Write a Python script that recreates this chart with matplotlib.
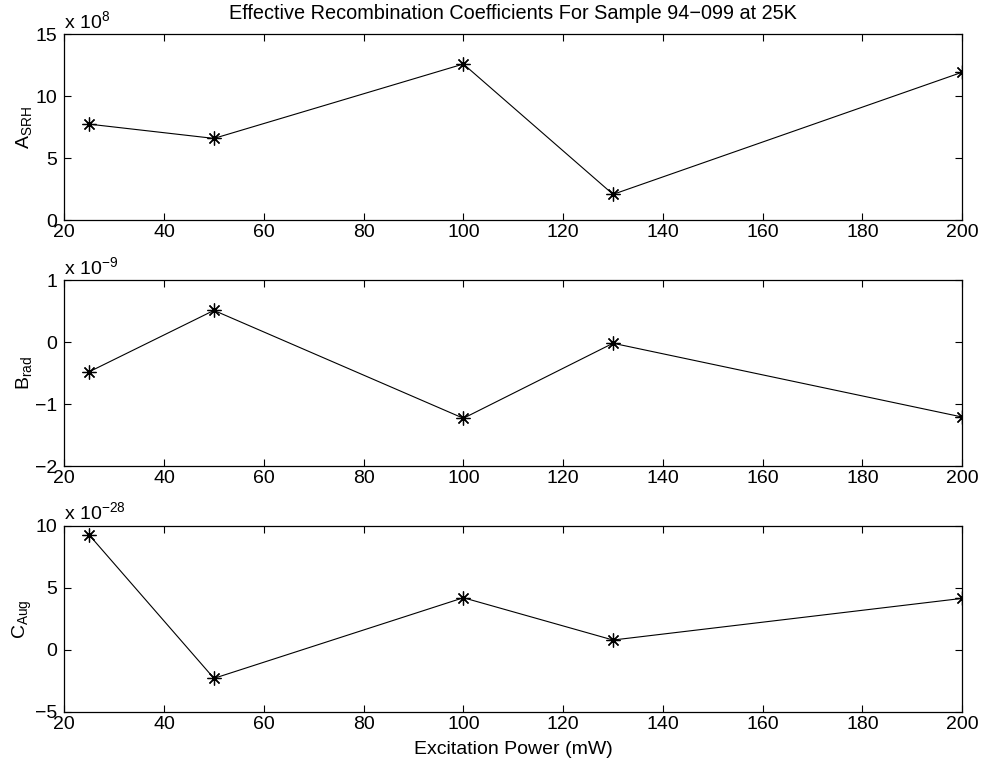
import matplotlib
matplotlib.use("Agg")
import matplotlib.pyplot as plt
from matplotlib.ticker import FuncFormatter

plt.rcParams['font.family'] = ['Liberation Sans', 'DejaVu Sans']
plt.rcParams['mathtext.fontset'] = 'custom'
plt.rcParams['mathtext.rm'] = 'Liberation Sans'
plt.rcParams['mathtext.it'] = 'Liberation Sans:italic'
plt.rcParams['mathtext.bf'] = 'Liberation Sans:bold'

# Data
power_mw = [25, 50, 100, 130, 200]
a_srh = [7.75e8, 6.6e8, 12.6e8, 2.09e8, 11.94e8]
b_rad = [-0.48e-9, 0.51e-9, -1.23e-9, -0.02e-9, -1.21e-9]
c_aug = [9.25e-28, -2.31e-28, 4.19e-28, 0.78e-28, 4.14e-28]

x_ticks = [20, 40, 60, 80, 100, 120, 140, 160, 180, 200]
a_ticks = [0, 5, 10, 15]
b_ticks = [-2, -1, 0, 1]
c_ticks = [-5, 0, 5, 10]

title = "Effective Recombination Coefficients For Sample 94\u2212099 at 25K"
xlabel = "Excitation Power (mW)"

panels = [
    (a_srh, 8, a_ticks, r"A$_{\mathrm{SRH}}$", 0.7132),
    (b_rad, -9, b_ticks, r"B$_{\mathrm{rad}}$", 0.3932),
    (c_aug, -28, c_ticks, r"C$_{\mathrm{Aug}}$", 0.0733),
]


def fmt(v, p, s):
    t = round(v / s, 6)
    txt = "%g" % abs(t)
    return ("\u2212" + txt) if t < 0 else txt


fig = plt.figure(figsize=(9.83, 7.68), dpi=100)
FS = 14
axes = []
for vals, exp, ticks, ylab, bottom in panels:
    ax = fig.add_axes([0.0654, bottom, 0.9135, 0.2422])
    scale = 10.0 ** exp
    ax.plot(power_mw, vals, color='black', linewidth=0.8,
            marker=(8, 2, 0), markersize=10, markeredgewidth=0.9,
            markeredgecolor='black')
    ax.set_xlim(20, 200)
    ax.set_xticks(x_ticks)
    ax.set_ylim(ticks[0] * scale, ticks[-1] * scale)
    ax.set_yticks([t * scale for t in ticks])
    ax.yaxis.set_major_formatter(FuncFormatter(lambda v, p, s=scale: fmt(v, p, s)))
    ax.tick_params(direction='in', top=True, right=True, length=5,
                   width=0.8, labelsize=FS)
    ax.tick_params(axis='y', pad=5)
    ax.tick_params(axis='x', pad=3)
    for sp in ax.spines.values():
        sp.set_linewidth(0.9)
    ax.set_ylabel(ylab, fontsize=FS, labelpad=1)
    label = r"x 10$^{%d}$" % exp if exp > 0 else "x 10$^{\u2212%d}$" % (-exp)
    ax.text(0.0, 1.012, label, transform=ax.transAxes, fontsize=FS,
            ha='left', va='bottom')
    axes.append(ax)

axes[0].set_title(title, fontsize=14.3, pad=11)
axes[-1].set_xlabel(xlabel, fontsize=FS, labelpad=6)

fig.savefig("out.png", dpi=100)
